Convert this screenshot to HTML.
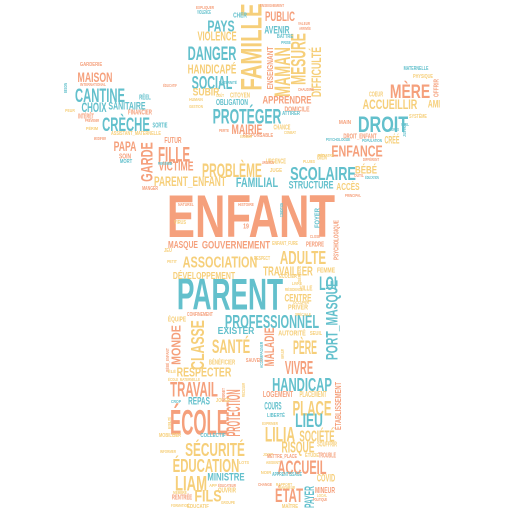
<!DOCTYPE html>
<html><head><meta charset="utf-8">
<style>
html,body{margin:0;padding:0;background:#fff;}
#cloud{position:relative;width:512px;height:512px;overflow:hidden;background:#fff;}
.w{position:absolute;white-space:nowrap;font-family:"Liberation Sans",sans-serif;font-weight:bold;line-height:1;transform-origin:50% 50%;}
</style></head>
<body>
<div id="cloud"></div>
<script>
// [text, centerX, centerY, capHeight, length, color, rotated]
const O='#f5a07c', T='#63c0cc', Y='#f6cf7a';
const words=[
['ENFANT',251,217,43,168,O,0],
['PARENT',230,296,32,106,T,0],
['MASQUE',183,246,7,30,O,0],
['GOUVERNEMENT',236,246,8,68,O,0],
['ASSOCIATION',220,263,11,75,Y,0],
['ADULTE',303,258,13,46,Y,0],
['TRAVAILLER',288,272,9,50,Y,0],
['DÉVELOPPEMENT',204,277,7,62,Y,0],
['LOI',328,285,14,18,T,0],
['VILLE',306,289,5,13,Y,0],
['FEMME',326,271,5,18,Y,0],
['CENTRE',298,299,8,27,Y,0],
['PRIVER',298,308,5,20,Y,0],
['PROFESSIONNEL',272,322,13,94,T,0],
['PORT_MASQUE',333,320,12,80,T,1],
['EXISTER',236,332,7,37,T,0],
['SANTÉ',231,348,14,38,Y,0],
['CLASSE',198,345,13,50,Y,1],
['MONDE',177,345,9,40,O,1],
['MALADIE',270,347,10,39,O,1],
['AUTORITÉ',292,334,5,28,Y,0],
['PÈRE',305,349,14,24,Y,0],
['RESPECTER',204,373,9,55,Y,0],
['VIVRE',299,368,13,28,O,0],
['HANDICAP',302,385,13,60,T,0],
['TRAVAIL',194,391,15,48,O,0],
['REPAS',199,402,8,22,T,0],
['PROTECTION',235,413,14,47,O,1],
['ÉCOLE',199,424,25,58,O,0],
['PLACE',312,410,15,39,Y,0],
['LIEU',309,422,14,28,T,0],
['COURS',273,407,8,17,T,0],
['LOGEMENT',278,394,6,30,O,0],
['PLACEMENT',313,394,6,27,Y,0],
['ÉTABLISSEMENT',338,406,6,48,O,1],
['LILIA',280,436,15,30,Y,0],
['SOCIÉTÉ',317,437,11,35,Y,0],
['RISQUE',298,448,11,33,Y,0],
['SÉCURITÉ',215,450,13,60,Y,0],
['ÉDUCATION',206,466,13,67,Y,0],
['ACCUEIL',302,469,14,49,O,0],
['LIAM',191,485,15,32,Y,0],
['MINISTRE',226,478,8,37,T,0],
['FILS',208,497,12,27,Y,0],
['ÉTAT',289,497,14,28,O,0],
['PAYER',310,497,10,22,T,1],
['COVID',326,479,8,18,Y,0],
['MINEUR',325,490,6,20,O,0],
['SOUFFRIR',327,445,5,20,Y,0],
['TROUBLE',327,456,5,18,O,0],
['FAMILLE',252,47,21,87,Y,1],
['PAYS',221,27,11,27,T,0],
['VIOLENCE',217,37,9,39,Y,0],
['DANGER',212,55,14,49,T,0],
['HANDICAPÉ',212,70,9,49,Y,0],
['SOCIAL',212,83,13,41,T,0],
['SUBIR',206,93,8,27,Y,0],
['OBLIGATION',232,102,6,32,T,0],
['PROTÉGER',247,118,15,69,T,0],
['MAIRIE',247,130,10,31,O,0],
['PUBLIC',280,17,10,30,O,0],
['AVENIR',277,31,8,25,T,0],
['MAMAN',283,72,16,50,Y,1],
['MESURE',300,59,15,52,Y,1],
['ENSEIGNANT',270,68,6,43,O,1],
['DIFFICULTÉ',317,72,10,50,Y,1],
['APPRENDRE',287,101,8,49,O,0],
['DOMICILE',297,110,5,25,O,0],
['CHANCE',282,128,5,17,Y,0],
['RESPONSABLE',258,137,4,30,O,0],
['PROBLÈME',232,172,14,60,Y,0],
['SCOLAIRE',323,174,13,66,T,0],
['FAMILIAL',257,183,10,42,T,0],
['URGENCE',276,162,5,20,Y,0],
['MAISON',95,78,10,35,O,0],
['CANTINE',100,97,14,50,T,0],
['CHOIX',94,108,10,25,T,0],
['SANITAIRE',127,107,8,37,T,0],
['CRÈCHE',126,126,14,48,T,0],
['PAPA',125,147,10,23,O,0],
['GARDE',148,162,12,40,O,1],
['FILLE',174,156,15,32,O,0],
['VICTIME',176,167,9,35,O,0],
['PARENT_ENFANT',190,182,10,72,Y,0],
['FUTUR',173,140,6,17,O,0],
['SOIN',125,157,5,12,O,0],
['MORT',126,163,4,12,T,0],
['ASSISTANT_MATERNELLE',136,135,4,50,Y,0],
['FINANCIER',140,113,5,24,O,0],
['INTÉRÊT',86,117,5,16,O,0],
['SORTIE',160,126,5,15,T,0],
['MÈRE',410,93,14,40,O,0],
['ACCUEILLIR',390,105,10,55,Y,0],
['AMI',434,105,8,12,Y,0],
['DROIT',383,125,16,50,T,0],
['ENFANCE',357,152,11,51,O,0],
['CRÉÉ',392,141,8,15,Y,0],
['BÉBÉ',366,171,8,22,Y,0],
['ACCÈS',348,188,7,23,Y,0],
['DROIT_ENFANT',360,137,5,33,O,0],
['OFFRIR',437,88,5,18,O,1],
['MATERNELLE',416,70,4,25,T,0],
['PHYSIQUE',423,78,4,20,Y,0],
['STRUCTURE',311,186,8,45,T,0],
['PSYCHOLOGIQUE',337,240,5,40,O,1],
['FOYER',318,218,5,20,T,1],
['MANGER',150,190,4,16,O,0],
['RENTRÉE',182,498,5,20,O,0],
['OUVRIR',227,491,5,18,Y,0],
['ÉDUCATIF',198,508,4,22,Y,0],
['MAÎTRE',290,508,4,16,Y,0],
['COLLECTIF',213,437,4,25,T,0],
['MOBILISER',170,437,4,22,Y,0],
['BÉNÉFICIER',222,363,5,26,Y,0],
['SAUVER',254,362,4,16,O,0],
['JOUER',223,402,4,14,Y,0],
['ÉQUIPE',177,320,5,18,Y,0],
['CONFINEMENT',200,316,4,26,O,0],
['RESPECT',262,260,4,16,Y,0],
['ENFANT_FURE',285,245,4,26,Y,0],
['PERDRE',315,245,5,18,O,0],
['APPRENTISSAGE',287,476,4,30,T,0],
['CHER',240,16,5,14,T,0],
['VIOLENCE',204,14,4,14,T,0],
['CITOYEN',240,96,5,20,Y,0],
['JUGE',276,172,4,12,Y,0],
['BIEN',322,158,5,10,Y,0],
['COEUR',376,95,5,14,Y,0],
['SYSTÈME',418,118,4,18,Y,0],
['MAIN',345,124,4,12,O,0],
['MATERNITÉ',228,83,3,18,T,0],
['GARDERIE',91,66,4,22,O,0],
['VIRUS',180,224,4,12,Y,0],
['JEU',168,252,4,8,Y,0],
['PETIT',172,262,3,10,Y,0],
['NATUREL',186,205,3,16,O,0],
['HISTOIRE',246,205,3,16,O,0],
['CONDITION',282,210,3,14,T,1],
['19',246,227,5,6,O,0],
['CLOSE',315,237,3,10,O,0],
['ÉCOLIER',288,278,4,18,Y,0],
['SÉRIEUX',300,274,3,16,Y,1],
['LIVRE',297,284,3,10,Y,0],
['OCCUPER',301,303,3,16,Y,0],
['RÉSIDENCE',294,290,3,18,Y,0],
['SPÉCIALE',303,315,3,16,Y,0],
['SEUIL',316,335,4,12,Y,0],
['AMPLEUR',283,354,3,10,Y,1],
['ACCOMPAGNER',262,355,3,26,T,1],
['BÉBÉ_ENFANT',168,360,3,24,O,1],
['ÉLÉ',172,372,3,8,Y,0],
['ÉCOLE_MATERNELLE',184,380,3,32,Y,0],
['INTERNET',224,395,3,14,O,1],
['CROP',176,402,3,10,T,0],
['RECUSER',244,390,3,14,Y,1],
['MOBILITÉ',170,423,3,12,Y,1],
['INFORMER',168,452,3,16,Y,0],
['LOTS',244,463,3,10,Y,0],
['APP',213,486,3,8,Y,0],
['ÉDUCATEUR',227,486,3,18,O,0],
['GROUPE',228,503,3,14,Y,0],
['FORMATION',180,506,3,18,Y,0],
['MEMBRE',180,493,3,14,Y,0],
['LIBERTÉ',276,417,4,18,T,0],
['EXPRIMER',270,424,3,16,Y,0],
['JOINT',268,455,3,10,Y,0],
['METTRE_PLACE',282,458,4,30,O,0],
['ÉTUDE',312,457,4,14,Y,0],
['ABSENT',273,463,3,14,Y,0],
['NOIR',266,473,3,10,Y,0],
['RAPPORT',284,485,3,16,Y,0],
['CHANGE',265,485,3,14,O,0],
['LOCAL',322,496,3,10,Y,0],
['POLITIQUE',320,500,3,14,O,0],
['BAIGNEUR',287,488,3,16,Y,0],
['EXPLIQUER',205,8,3,18,O,0],
['ENSEIGNEMENT',272,6,3,24,O,0],
['BATTRE',285,38,4,16,T,0],
['PRISE',286,43,3,10,T,0],
['VALEUR',304,24,3,12,O,0],
['ARRIVÉE',305,29,3,12,O,0],
['CHAUDIRE',306,90,3,16,O,0],
['HUMAIN',196,100,3,14,Y,0],
['GESTION',196,107,3,14,Y,0],
['COÛT',220,96,3,8,Y,0],
['ÉCOLIER',246,137,3,12,Y,0],
['COMBAT',290,133,3,12,Y,0],
['ATTIRER',291,115,4,18,T,0],
['PERTE',224,131,3,10,O,0],
['URGENCE',268,163,3,12,O,0],
['PLUIES',309,162,3,12,Y,0],
['PSYCHOLOGUE',338,140,3,24,T,0],
['PÉDIATRE',326,156,3,16,Y,0],
['POPULATION',372,141,3,20,T,0],
['CORPS',394,130,3,10,T,0],
['JUSTICE',405,130,3,14,T,1],
['VIEIL',405,125,3,8,T,0],
['DIFFÉRENT',371,160,3,16,O,0],
['OUTIL',359,176,3,10,O,0],
['ÉDUCATION',372,178,3,14,T,0],
['PRINCIPAL',353,196,3,16,O,0],
['RÉEL',145,98,5,12,T,0],
['ÉDUCATIF',170,86,3,14,O,0],
['INTERNATIONAL',93,85,3,26,O,0],
['BESOIN',66,88,3,10,T,1],
['PEUR',70,111,3,10,Y,0],
['PRÉVENIR',92,121,3,14,O,0],
['PÉRIM',92,129,3,12,Y,0],
['MODIFIER',100,139,3,12,O,0],
['PERSONNE',165,164,3,14,T,0]
];
const cloud=document.getElementById('cloud');
for(const w of words){
  const [t,cx,cy,ch,len,col,rot]=w;
  const fs=ch/0.716;
  const el=document.createElement('span');
  el.className='w';
  
  
  el.textContent=t;
  el.style.fontSize=fs+'px';
  el.style.color=col;
  el.style.left=cx+'px';
  el.style.top=cy+'px';
  cloud.appendChild(el);
  const wpx=el.offsetWidth||1;
  const s=len/wpx;
  el.style.transform='translate(-50%,-50%)'+(rot?' rotate(-90deg)':'')+' scaleX('+s+')';
}
</script>
</body></html>
